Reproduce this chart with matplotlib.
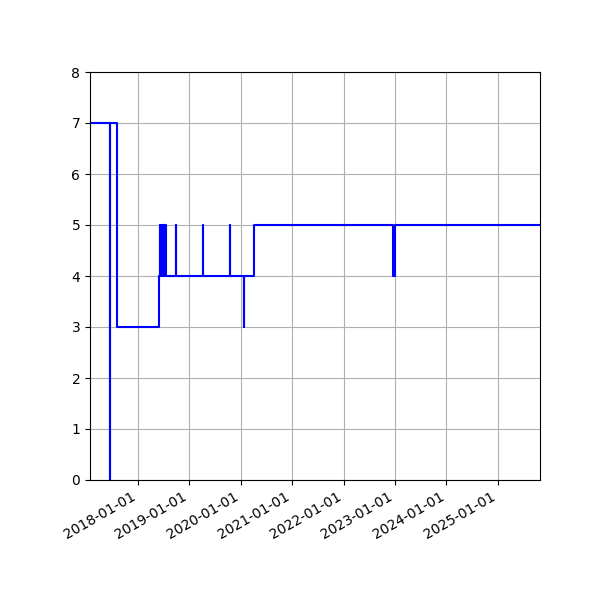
import pandas as pd
import matplotlib
matplotlib.use("Agg")
import matplotlib.pyplot as plt
import matplotlib.dates as mdates

# change points of the step series (value holds until the next date)
dates = [
    "2017-01-25", "2017-06-14", "2017-06-19", "2017-08-04",
    "2018-05-29",
    "2018-06-03", "2018-06-06", "2018-06-10", "2018-06-13", "2018-06-17",
    "2018-06-20", "2018-06-24", "2018-06-27", "2018-07-01", "2018-07-04",
    "2018-07-08", "2018-07-11", "2018-07-15", "2018-07-19",
    "2018-09-26", "2018-09-29",
    "2019-04-06", "2019-04-09",
    "2019-10-15", "2019-10-18",
    "2020-01-22", "2020-01-25",
    "2020-04-05",
    "2022-12-19", "2022-12-31",
    "2025-10-27",
]
values = [
    7, 0, 7, 3,
    4,
    5, 4, 5, 4, 5,
    4, 5, 4, 5, 4,
    5, 4, 5, 4,
    5, 4,
    5, 4,
    5, 4,
    3, 4,
    5,
    4, 5,
    5,
]

df = pd.DataFrame({"date": pd.to_datetime(dates), "value": values})

fig, ax = plt.subplots(figsize=(6, 6), dpi=100)

ax.plot(df["date"], df["value"], drawstyle="steps-post", color="blue")

ax.set_xlim(df["date"].iloc[0], df["date"].iloc[-1])
ax.set_ylim(0, 8)
ax.xaxis.set_major_locator(mdates.YearLocator())
ax.xaxis.set_major_formatter(mdates.DateFormatter("%Y-%m-%d"))
ax.grid(True)

fig.autofmt_xdate()
fig.subplots_adjust(left=0.15, right=0.9, top=0.88, bottom=0.2)

plt.savefig("out.png")
